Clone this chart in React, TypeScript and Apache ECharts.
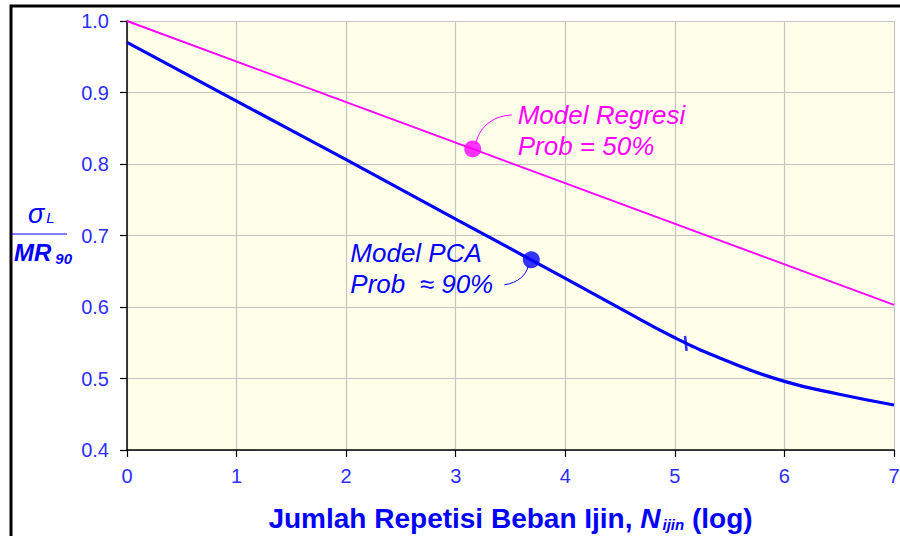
import React, { useEffect, useRef } from 'react';
import * as echarts from 'echarts';

// ---- data ----
const regresiX = [0, 7];
const regresiY = [1.0, 0.603];
const pcaX = [0, 1, 2, 3, 4, 4.5, 5, 5.5, 6, 6.5, 7];
const pcaY = [0.970, 0.888, 0.806, 0.723, 0.640, 0.598, 0.557, 0.523, 0.496, 0.478, 0.463];
const regresiMarker = [3.155, 0.821];
const pcaMarker = [3.69, 0.666];
const pcaTick = [5.1, 0.549];
const regresiLabel = ['Model Regresi', 'Prob = 50%'];
const pcaLabel = ['Model PCA', 'Prob  \u2248 90%'];
const xTitle = 'Jumlah Repetisi Beban Ijin, ';

const FONT = '"Liberation Sans", Arial, sans-serif';
const TICK_COLOR = '#2e2eff';
const BLUE = '#0000ff';
const MAGENTA = '#ff00ff';

export default function App() {
  const ref = useRef<HTMLDivElement>(null);
  useEffect(() => {
    if (!ref.current) return;
    const chart = echarts.init(ref.current, null, { renderer: 'svg' });
    const option: any = {
      animation: false,
      backgroundColor: '#ffffff',
      textStyle: { fontFamily: FONT },
      grid: {
        left: 127, right: 6, top: 21, bottom: 86,
        show: true, backgroundColor: '#ffffe9', borderWidth: 0,
        outerBoundsMode: 'none',
      },
      xAxis: {
        type: 'value', min: 0, max: 7, interval: 1,
        axisLine: { show: true, onZero: false, lineStyle: { color: '#000', width: 1.5 } },
        axisTick: { show: true, length: 7, lineStyle: { color: '#000', width: 1.2 } },
        axisLabel: { color: TICK_COLOR, fontSize: 20, fontFamily: FONT, margin: 16 },
        splitLine: { show: true, lineStyle: { color: '#c4c4c4', width: 1.2 } },
      },
      yAxis: {
        type: 'value', min: 0.4, max: 1.0, interval: 0.1,
        axisLine: { show: true, onZero: false, lineStyle: { color: '#000', width: 1.5 } },
        axisTick: { show: true, length: 7, lineStyle: { color: '#000', width: 1.2 } },
        axisLabel: {
          color: TICK_COLOR, fontSize: 20, fontFamily: FONT, margin: 18,
          formatter: (v: number) => v.toFixed(1),
        },
        splitLine: { show: true, lineStyle: { color: '#c4c4c4', width: 1.2 } },
      },
      series: [
        {
          type: 'line', name: 'Regresi',
          data: regresiX.map((x, i) => [x, regresiY[i]]),
          showSymbol: false, lineStyle: { color: MAGENTA, width: 2 }, z: 3,
        },
        {
          type: 'line', name: 'PCA',
          data: pcaX.map((x, i) => [x, pcaY[i]]),
          smooth: 0.5,
          showSymbol: false, lineStyle: { color: BLUE, width: 3.2 }, z: 3,
        },
        {
          type: 'scatter', data: [regresiMarker], symbol: 'circle', symbolSize: 17,
          itemStyle: { color: MAGENTA }, z: 5,
        },
        {
          type: 'scatter', data: [pcaMarker], symbol: 'circle', symbolSize: 17,
          itemStyle: { color: BLUE }, z: 5,
        },
        {
          type: 'scatter', data: [pcaTick], symbol: 'rect', symbolSize: [2.6, 15],
          symbolRotate: 6, itemStyle: { color: BLUE }, z: 5,
        },
      ],
    };
    chart.setOption(option);

    const pr = chart.convertToPixel({ gridIndex: 0 }, regresiMarker) as number[];
    const pp = chart.convertToPixel({ gridIndex: 0 }, pcaMarker) as number[];
    const plotLeft = chart.convertToPixel({ xAxisIndex: 0 }, 0) as number;
    const plotRight = chart.convertToPixel({ xAxisIndex: 0 }, 7) as number;

    const annFont = { fontSize: 26, fontStyle: 'italic', fontFamily: FONT };
    chart.setOption({
      graphic: [
        // frame
        {
          type: 'polyline', silent: true,
          shape: { points: [[11, 540], [11, 6], [905, 6]] },
          style: { stroke: '#000', lineWidth: 3, fill: 'none' },
        },
        // y-axis title fraction
        {
          type: 'text', left: 28, top: 200,
          style: {
            text: '{a|\u03c3}{b|L}',
            rich: {
              a: { fontSize: 27, fontStyle: 'italic', fontFamily: FONT, fill: BLUE },
              b: { fontSize: 15, fontStyle: 'italic', fontFamily: FONT, fill: BLUE, padding: [8, 0, 0, 2] },
            },
          },
        },
        {
          type: 'line', shape: { x1: 12, y1: 234, x2: 67, y2: 234 },
          style: { stroke: BLUE, lineWidth: 1.2 },
        },
        {
          type: 'text', left: 14, top: 240,
          style: {
            text: '{a|MR}{b|90}',
            rich: {
              a: { fontSize: 24, fontWeight: 'bold', fontStyle: 'italic', fontFamily: FONT, fill: BLUE },
              b: { fontSize: 15, fontWeight: 'bold', fontStyle: 'italic', fontFamily: FONT, fill: BLUE, padding: [12, 0, 0, 4] },
            },
          },
        },
        // x-axis title
        {
          type: 'text', x: (plotLeft + plotRight) / 2, y: 518,
          style: {
            text: '{a|' + xTitle + '}{n|N}{s|ijin}{a| (log)}',
            align: 'center', verticalAlign: 'middle',
            rich: {
              a: { fontSize: 28, fontWeight: 'bold', fontFamily: FONT, fill: BLUE },
              n: { fontSize: 28, fontWeight: 'bold', fontStyle: 'italic', fontFamily: FONT, fill: BLUE },
              s: { fontSize: 15, fontWeight: 'bold', fontStyle: 'italic', fontFamily: FONT, fill: BLUE, padding: [12, 0, 0, 2] },
            },
          },
        },
        // Regresi annotation
        {
          type: 'bezierCurve',
          shape: {
            x1: pr[0] + 3, y1: pr[1] - 5,
            cpx1: pr[0] + 6, cpy1: pr[1] - 20,
            cpx2: pr[0] + 18, cpy2: pr[1] - 33,
            x2: pr[0] + 39, y2: pr[1] - 34,
          },
          style: { stroke: MAGENTA, lineWidth: 1, fill: 'none' },
        },
        {
          type: 'text', x: pr[0] + 45, y: pr[1] - 34,
          style: { text: regresiLabel[0], fill: MAGENTA, ...annFont, verticalAlign: 'middle' },
        },
        {
          type: 'text', x: pr[0] + 45, y: pr[1] - 3,
          style: { text: regresiLabel[1], fill: MAGENTA, ...annFont, verticalAlign: 'middle' },
        },
        // PCA annotation
        {
          type: 'bezierCurve',
          shape: {
            x1: pp[0] - 3, y1: pp[1] + 6,
            cpx1: pp[0] - 5, cpy1: pp[1] + 15,
            cpx2: pp[0] - 13, cpy2: pp[1] + 23,
            x2: pp[0] - 27, y2: pp[1] + 25,
          },
          style: { stroke: BLUE, lineWidth: 1, fill: 'none' },
        },
        {
          type: 'text', x: pp[0] - 181, y: pp[1] - 7,
          style: { text: pcaLabel[0], fill: BLUE, ...annFont, verticalAlign: 'middle' },
        },
        {
          type: 'text', x: pp[0] - 181, y: pp[1] + 24,
          style: { text: pcaLabel[1], fill: BLUE, ...annFont, verticalAlign: 'middle' },
        },
      ],
    });

    return () => chart.dispose();
  }, []);
  return (
    <div
      ref={ref}
      style={{ position: 'fixed', left: 0, top: 0, width: 900, height: 536 }}
    />
  );
}
